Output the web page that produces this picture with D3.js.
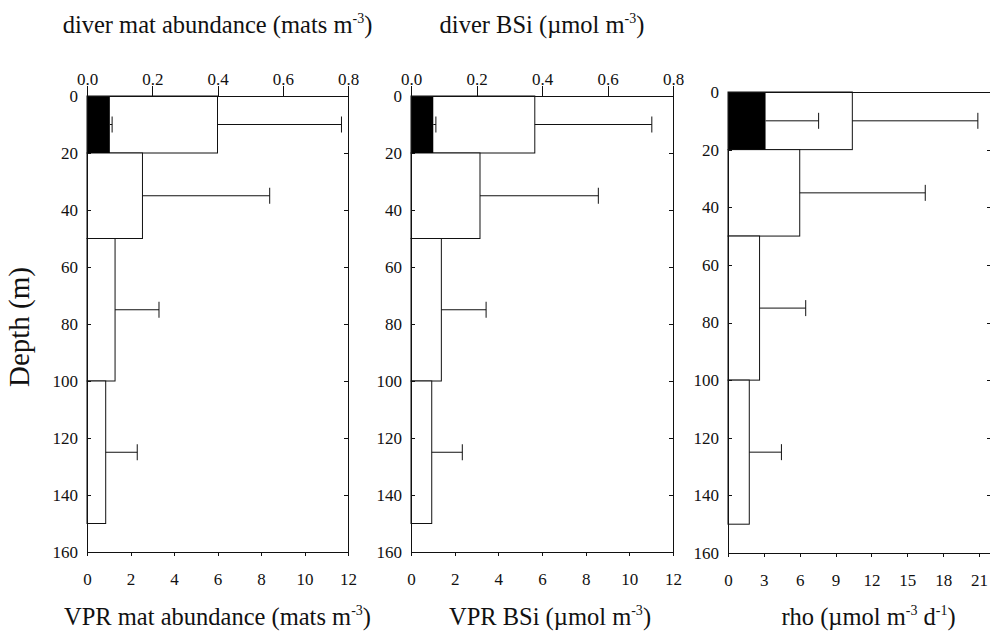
<!DOCTYPE html>
<html>
<head>
<meta charset="utf-8">
<script src="https://cdn.jsdelivr.net/npm/d3@7"></script>
<style>
body { margin: 0; background: #fff; }
svg { display: block; font-family: "Liberation Serif", "Times New Roman", serif; }
.axis path, .axis line { stroke: #111; stroke-width: 1px; shape-rendering: crispEdges; }
.title { font-size: 24.5px; fill: #111; }
</style>
</head>
<body>
<svg id="chart" width="990" height="632"></svg>
<script>
// depth layers (m)
var layerTop    = [0, 20, 50, 100];
var layerBottom = [20, 50, 100, 150];
var errDepth    = [10, 35, 75, 125];
var depthTicks  = [0, 20, 40, 60, 80, 100, 120, 140, 160];

// VPR mat abundance (mats m-3), open bars, with +SD
var vprMat    = [6.0, 2.55, 1.29, 0.86];
var vprMatSd  = [5.7, 5.85, 2.02, 1.45];
// diver mat abundance, 0-20 m (filled bar, top axis)
var diverMat   = [0.07];
var diverMatSd = [0.007];

// VPR BSi (umol m-3)
var vprBsi    = [5.67, 3.16, 1.39, 0.95];
var vprBsiSd  = [5.36, 5.42, 2.05, 1.40];
var diverBsi   = [0.068];
var diverBsiSd = [0.008];

// rho (umol m-3 d-1)
var rho      = [10.4, 6.0, 2.64, 1.78];
var rhoSd    = [10.5, 10.5, 3.86, 2.69];
var diverRho   = [3.14];
var diverRhoSd = [4.44];

var bottomTicksA = [0, 2, 4, 6, 8, 10, 12];
var bottomTicksC = [0, 3, 6, 9, 12, 15, 18, 21];
var topTicks     = [0, 0.2, 0.4, 0.6, 0.8];

var panels = [
  { x0: 87, x1: 348, y0: 96, y1: 552, dom: [0, 12], ticks: bottomTicksA, top: [0, 0.8],
    open: vprMat, openSd: vprMatSd, fill: diverMat, fillSd: diverMatSd,
    topTitle: ["diver mat abundance (mats m", "-3", ")"],
    botTitle: ["VPR mat abundance (mats m", "-3", ")"], botShift: 0 },
  { x0: 411, x1: 673, y0: 96, y1: 552, dom: [0, 12], ticks: bottomTicksA, top: [0, 0.8],
    open: vprBsi, openSd: vprBsiSd, fill: diverBsi, fillSd: diverBsiSd,
    topTitle: ["diver BSi (\u00b5mol m", "-3", ")"],
    botTitle: ["VPR BSi (\u00b5mol m", "-3", ")"], botShift: 8 },
  { x0: 728, x1: 991, y0: 92, y1: 553, dom: [0, 22], ticks: bottomTicksC, top: null,
    open: rho, openSd: rhoSd, fill: diverRho, fillSd: diverRhoSd,
    topTitle: null,
    botTitle: ["rho (\u00b5mol m", "-3", " d", "-1", ")"], botShift: 9 }
];

var svg = d3.select("#chart");

function title(txt, cx, cy) {
  var t = svg.append("text").attr("class", "title")
    .attr("x", cx).attr("y", cy).attr("text-anchor", "middle");
  txt.forEach(function(s, i) {
    var sp = t.append("tspan").text(s);
    if (i % 2 == 1) sp.attr("font-size", "14px").attr("dy", -10);
    else if (i > 0) sp.attr("dy", 10);
  });
}

function styleAxis(sel) {
  sel.selectAll("text")
    .style("font-family", "'Liberation Serif', serif")
    .style("font-size", "17px")
    .style("fill", "#111");
}

function drawPanel(p) {
  var x = d3.scaleLinear().domain(p.dom).range([p.x0, p.x1]);
  var xt = p.top ? d3.scaleLinear().domain(p.top).range([p.x0, p.x1]) : x;
  var y = d3.scaleLinear().domain([0, 160]).range([p.y0, p.y1]);
  var g = svg.append("g");

  g.selectAll("rect.open").data(p.open).enter().append("rect")
    .attr("x", x(0))
    .attr("y", (d, i) => y(layerTop[i]))
    .attr("width", d => x(d) - x(0))
    .attr("height", (d, i) => y(layerBottom[i]) - y(layerTop[i]))
    .attr("fill", "#fff").attr("stroke", "#111").attr("stroke-width", 1);

  function errs(vals, sds, sc, cls) {
    var e = g.selectAll("g." + cls).data(vals).enter().append("g");
    e.append("line")
      .attr("x1", d => sc(d)).attr("x2", (d, i) => sc(d + sds[i]))
      .attr("y1", (d, i) => y(errDepth[i])).attr("y2", (d, i) => y(errDepth[i]))
      .attr("stroke", "#111");
    e.append("line")
      .attr("x1", (d, i) => sc(d + sds[i])).attr("x2", (d, i) => sc(d + sds[i]))
      .attr("y1", (d, i) => y(errDepth[i]) - 8).attr("y2", (d, i) => y(errDepth[i]) + 8)
      .attr("stroke", "#111");
  }
  errs(p.open, p.openSd, x, "eo");

  g.selectAll("rect.fill").data(p.fill).enter().append("rect")
    .attr("x", x(0))
    .attr("y", (d, i) => y(layerTop[i]))
    .attr("width", d => xt(d) - x(0))
    .attr("height", (d, i) => y(layerBottom[i]) - y(layerTop[i]))
    .attr("fill", "#000");
  errs(p.fill, p.fillSd, xt, "ef");

  // axes
  svg.append("g").attr("class", "axis")
    .attr("transform", "translate(0," + p.y1 + ")")
    .call(d3.axisBottom(x).tickValues(p.ticks).tickSizeInner(4).tickSizeOuter(0).tickPadding(17))
    .call(styleAxis);
  svg.append("g").attr("class", "axis")
    .attr("transform", "translate(" + p.x0 + ",0)")
    .call(d3.axisLeft(y).tickValues(depthTicks).tickSizeInner(-4).tickSizeOuter(0).tickPadding(9))
    .call(styleAxis);
  svg.append("g").attr("class", "axis")
    .attr("transform", "translate(" + p.x1 + ",0)")
    .call(d3.axisLeft(y).tickValues(depthTicks).tickSizeInner(4).tickSizeOuter(0).tickFormat(""));
  if (p.top) {
    svg.append("g").attr("class", "axis")
      .attr("transform", "translate(0," + p.y0 + ")")
      .call(d3.axisTop(xt).tickValues(topTicks).tickSizeInner(10).tickSizeOuter(0).tickPadding(1)
        .tickFormat(d3.format(".1f")))
      .call(styleAxis);
  } else {
    svg.append("g").attr("class", "axis")
      .attr("transform", "translate(0," + p.y0 + ")")
      .call(d3.axisTop(x).tickValues([]).tickSizeOuter(0));
  }

  var cx = (p.x0 + p.x1) / 2;
  if (p.topTitle) title(p.topTitle, cx, 33);
  title(p.botTitle, cx + p.botShift, 625);
}

panels.forEach(drawPanel);

svg.append("text").attr("class", "title")
  .attr("transform", "translate(29,327) rotate(-90)")
  .attr("text-anchor", "middle")
  .style("font-size", "29px")
  .text("Depth (m)");
</script>
</body>
</html>
